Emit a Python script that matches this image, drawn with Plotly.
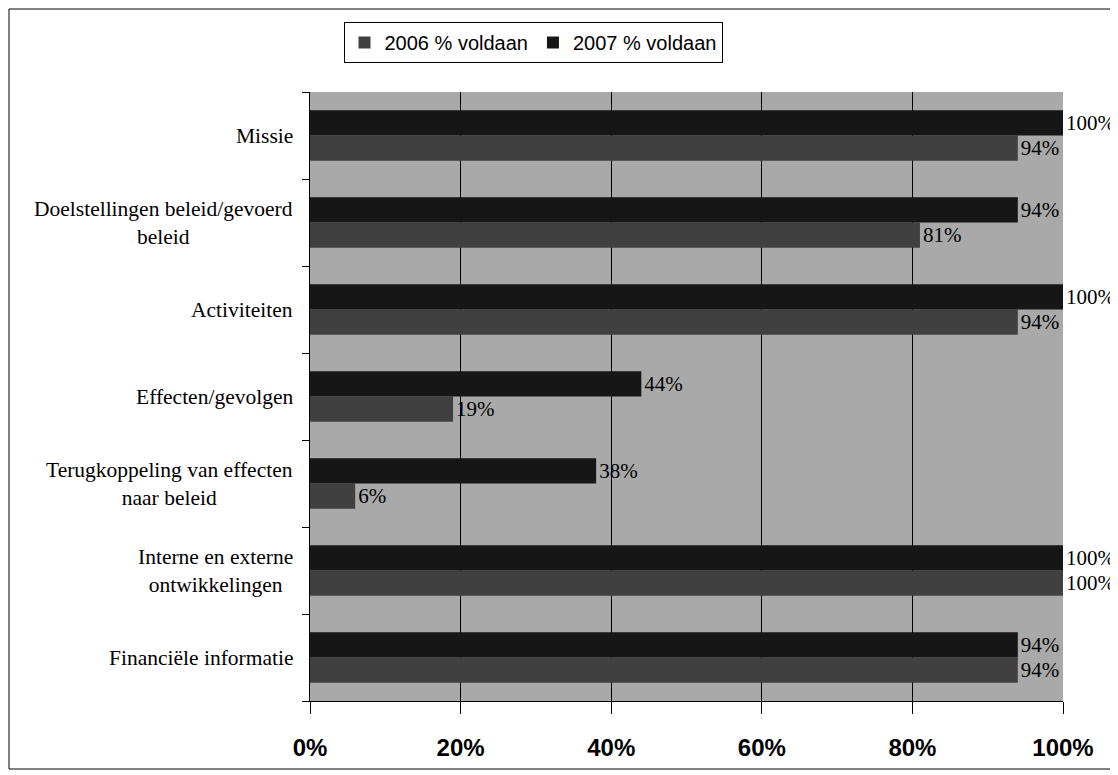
import plotly.graph_objects as go

# categories top to bottom as in the chart
categories = [
    "Missie",
    "Doelstellingen beleid/gevoerd<br>beleid",
    "Activiteiten",
    "Effecten/gevolgen",
    "Terugkoppeling van effecten<br>naar beleid",
    "Interne en externe<br>ontwikkelingen",
    "Financiële informatie",
]
voldaan_2006 = [94, 81, 94, 19, 6, 100, 94]
voldaan_2007 = [100, 94, 100, 44, 38, 100, 94]
x_ticks = [0, 20, 40, 60, 80, 100]
x_tick_labels = ["0%", "20%", "40%", "60%", "80%", "100%"]

# page body adds an 8px offset, so work in figure pixels = reference - 8
OFF = 8
W, H = 1118 - OFF, 775 - OFF
L, R, T, B = 310 - OFF, 1063 - OFF, 92 - OFF, 701 - OFF


def px(x):
    return (x - OFF - L) / (R - L)


def py(y):
    return (B - (y - OFF)) / (B - T)


serif = 'Liberation Serif'

fig = go.Figure()
fig.add_trace(go.Bar(
    y=categories, x=voldaan_2006, orientation='h', name="2006 % voldaan",
    marker=dict(color='#404040', line=dict(width=0)),
    text=[f"{v}%" for v in voldaan_2006], textposition='outside',
    textfont=dict(family=serif, size=21, color='black'),
    cliponaxis=False,
))
fig.add_trace(go.Bar(
    y=categories, x=voldaan_2007, orientation='h', name="2007 % voldaan",
    marker=dict(color='#161616', line=dict(width=0)),
    text=[f"{v}%" for v in voldaan_2007], textposition='outside',
    textfont=dict(family=serif, size=21, color='black'),
    cliponaxis=False,
))

# category labels, centred lines, right edge ~16px left of the axis
for cat in categories:
    fig.add_annotation(
        x=0, xref='paper', y=cat, yref='y', text=cat, showarrow=False,
        xanchor='right', yanchor='middle', align='center', xshift=-15,
        font=dict(family=serif, size=21.5, color='black'),
    )

fig.update_layout(
    width=W, height=H,
    margin=dict(l=L, r=W - R, t=T, b=H - B),
    barmode='group', bargap=0.42, bargroupgap=0.0,
    plot_bgcolor='#a9a9a9', paper_bgcolor='white',
    legend=dict(
        orientation='h', x=px(533), y=py(22), xanchor='center', yanchor='top',
        bordercolor='black', borderwidth=1, bgcolor='white',
        font=dict(family='Arial', size=20, color='black'),
        traceorder='normal', itemwidth=30,
    ),
    xaxis=dict(
        range=[0, 100], tickvals=x_ticks, ticktext=x_tick_labels,
        showgrid=True, gridcolor='black', gridwidth=1,
        ticks='outside', ticklen=12, tickcolor='black',
        showline=True, linecolor='black', linewidth=1,
        tickfont=dict(family='Arial', size=24, color='black', weight='bold'),
        ticklabelstandoff=13, zeroline=False,
    ),
    yaxis=dict(
        categoryorder='array', categoryarray=categories[::-1],
        ticks='outside', ticklen=7, tickcolor='black', tickson='boundaries',
        showline=True, linecolor='black', linewidth=1,
        showticklabels=False, showgrid=False,
    ),
    shapes=[dict(
        type='rect', xref='paper', yref='paper',
        x0=px(OFF + 1), x1=px(1111), y0=py(769), y1=py(OFF + 1),
        line=dict(color='black', width=1), fillcolor='rgba(0,0,0,0)',
    )],
)

fig.write_html("out.html")
